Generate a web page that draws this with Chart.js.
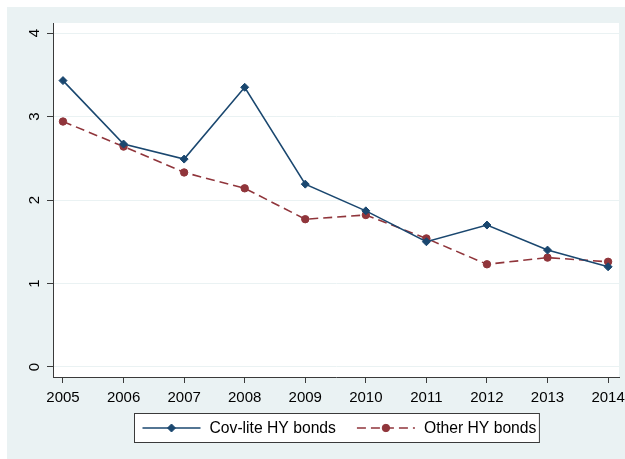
<!DOCTYPE html>
<html>
<head>
<meta charset="utf-8">
<script src="https://cdn.jsdelivr.net/npm/chart.js@4"></script>
<style>
  html, body { margin: 0; padding: 0; background: #ffffff; }
  #wrap { width: 625px; height: 459px; position: relative; }
</style>
</head>
<body>
<div id="wrap"><canvas id="c" width="625" height="459"></canvas></div>
<script>
// Years on the x axis
const years = [2005, 2006, 2007, 2008, 2009, 2010, 2011, 2012, 2013, 2014];
// Series values
const covLite = [3.43, 2.67, 2.49, 3.35, 2.19, 1.87, 1.50, 1.70, 1.40, 1.20];
const otherHY = [2.94, 2.64, 2.33, 2.14, 1.77, 1.82, 1.54, 1.23, 1.31, 1.26];
// Y axis tick values
const yTicks = [0, 1, 2, 3, 4];
// Series names
const seriesNames = ['Cov-lite HY bonds', 'Other HY bonds'];

const FONT = "'Liberation Sans', Arial, Helvetica, sans-serif";
const BG = '#EAF2F3';
const AXIS = '#3a3a3a';
const NAVY = '#1A476F';
const MAROON = '#90353B';

const toPoints = vals => years.map((y, i) => ({ x: y, y: vals[i] }));

// Panel backgrounds: outer graph region and white plot region
const backdrop = {
  id: 'backdrop',
  beforeDraw(chart) {
    const { ctx, chartArea: a, width, height } = chart;
    ctx.save();
    ctx.fillStyle = '#ffffff';
    ctx.fillRect(0, 0, width, height);
    ctx.fillStyle = BG;
    ctx.fillRect(7, 7, width - 7, height - 7);
    ctx.fillStyle = '#ffffff';
    ctx.fillRect(a.left, a.top, a.right - a.left, a.bottom - a.top);
    ctx.restore();
  }
};

// Boxed legend under the x axis
const boxLegend = {
  id: 'boxLegend',
  afterDraw(chart) {
    const { ctx, chartArea: a } = chart;
    const sets = chart.data.datasets;
    ctx.save();
    ctx.font = '15.7px ' + FONT;
    const padL = 8, lineW = 58, gapLT = 9, gapItems = 21, padR = 3;
    const tw = sets.map(d => ctx.measureText(d.label).width);
    const total = padL + padR + sets.length * (lineW + gapLT) + gapItems * (sets.length - 1) + tw.reduce((s, v) => s + v, 0);
    const cx = (a.left + a.right) / 2;
    const left = Math.round(cx - total / 2) + 0.5;
    const top = 413.5, h = 29;
    ctx.fillStyle = '#ffffff';
    ctx.fillRect(left, top, total, h);
    ctx.strokeStyle = AXIS;
    ctx.lineWidth = 1;
    ctx.strokeRect(left, top, total, h);
    const cy = top + h / 2;
    let x = left + padL;
    sets.forEach((d, i) => {
      ctx.save();
      ctx.strokeStyle = d.borderColor;
      ctx.lineWidth = d.borderWidth;
      ctx.setLineDash(d.borderDash || []);
      ctx.beginPath();
      ctx.moveTo(x, cy);
      ctx.lineTo(x + lineW, cy);
      ctx.stroke();
      ctx.restore();
      ctx.save();
      ctx.fillStyle = d.pointBackgroundColor;
      ctx.strokeStyle = d.pointBorderColor;
      ctx.lineWidth = d.pointBorderWidth;
      Chart.helpers.drawPoint(ctx, {
        pointStyle: d.pointStyle,
        radius: d.pointRadius,
        borderWidth: d.pointBorderWidth
      }, x + lineW / 2, cy);
      ctx.restore();
      x += lineW + gapLT;
      ctx.fillStyle = '#000000';
      ctx.textBaseline = 'middle';
      ctx.textAlign = 'left';
      ctx.fillText(d.label, x, cy + 1);
      x += tw[i] + gapItems;
    });
    ctx.restore();
  }
};

new Chart(document.getElementById('c'), {
  type: 'line',
  data: {
    datasets: [
      {
        label: seriesNames[0],
        data: toPoints(covLite),
        borderColor: NAVY,
        borderWidth: 1.6,
        pointStyle: 'rectRot',
        pointRadius: 4,
        pointBorderWidth: 1,
        pointBackgroundColor: NAVY,
        pointBorderColor: NAVY,
        tension: 0
      },
      {
        label: seriesNames[1],
        data: toPoints(otherHY),
        borderColor: MAROON,
        borderWidth: 1.6,
        borderDash: [9, 5],
        pointStyle: 'circle',
        pointRadius: 3.7,
        pointBorderWidth: 1,
        pointBackgroundColor: MAROON,
        pointBorderColor: MAROON,
        tension: 0
      }
    ]
  },
  options: {
    responsive: false,
    animation: false,
    devicePixelRatio: 1,
    layout: { padding: { top: 23, right: 6, left: 0, bottom: 0 } },
    plugins: { legend: { display: false }, tooltip: { enabled: false } },
    scales: {
      x: {
        type: 'linear',
        min: 2004.835,
        max: 2014.18,
        afterBuildTicks: s => { s.ticks = years.map(v => ({ value: v })); },
        afterFit: s => { s.height = 82; s.paddingLeft = 0; s.paddingRight = 0; },
        grid: { drawOnChartArea: false, drawTicks: true, tickLength: 6, tickColor: AXIS },
        border: { display: true, color: AXIS, width: 1 },
        ticks: {
          autoSkip: false,
          maxRotation: 0,
          padding: 6,
          color: '#000000',
          font: { family: FONT, size: 15 },
          callback: v => String(v)
        }
      },
      y: {
        type: 'linear',
        min: -0.12,
        max: 4.12,
        afterBuildTicks: s => { s.ticks = yTicks.map(v => ({ value: v })); },
        afterFit: s => { s.width = 53; s.paddingTop = 0; s.paddingBottom = 0; },
        grid: { color: BG, lineWidth: 1, drawTicks: true, tickLength: 6, tickColor: AXIS },
        border: { display: true, color: AXIS, width: 1 },
        ticks: {
          autoSkip: false,
          minRotation: 90,
          maxRotation: 90,
          crossAlign: 'center',
          padding: 8,
          color: '#000000',
          font: { family: FONT, size: 15 },
          callback: v => String(v)
        }
      }
    }
  },
  plugins: [backdrop, boxLegend]
});
</script>
</body>
</html>
